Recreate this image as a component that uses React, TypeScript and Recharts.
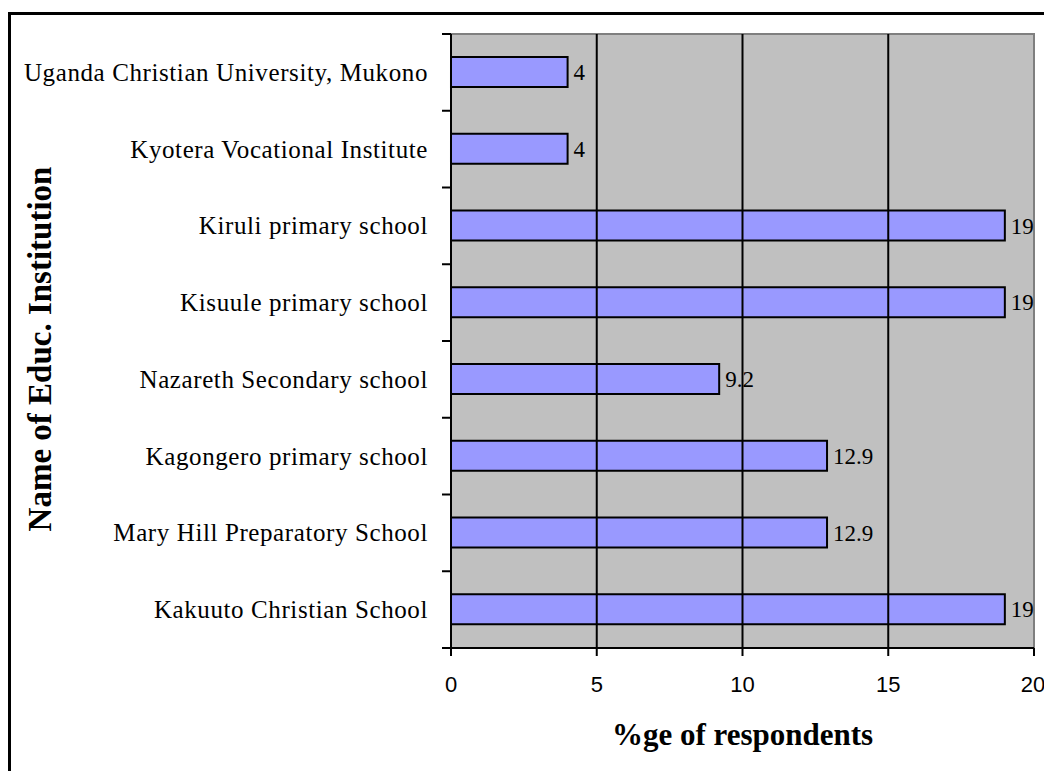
import React from 'react';
import { BarChart, Bar, XAxis, YAxis, ReferenceArea, ReferenceLine, LabelList } from 'recharts';

const institutions = [
  'Uganda Christian University, Mukono',
  'Kyotera Vocational Institute',
  'Kiruli primary school',
  'Kisuule primary school',
  'Nazareth Secondary school',
  'Kagongero primary school',
  'Mary Hill Preparatory School',
  'Kakuuto Christian School',
];

const percentages = [4, 4, 19, 19, 9.2, 12.9, 12.9, 19];

const xTicks = [0, 5, 10, 15, 20];

const data = institutions.map((name, i) => ({ name, value: percentages[i] }));

const serif = '"Liberation Serif", "Times New Roman", serif';
const sans = '"Liberation Sans", Arial, sans-serif';

// category tick: label in the band centre, tick mark on the band edge (Excel style)
const CategoryTick = (props: any) => {
  const { x, y, payload, index, visibleTicksCount } = props;
  const half = payload?.offset ?? 0;
  return (
    <g>
      <line x1={x + 14} x2={x + 23} y1={y - half} y2={y - half} stroke="#000" strokeWidth={2} />
      {index === visibleTicksCount - 1 && (
        <line x1={x + 14} x2={x + 23} y1={y + half} y2={y + half} stroke="#000" strokeWidth={2} />
      )}
      <text
        x={x}
        y={y}
        textAnchor="end"
        dominantBaseline="central"
        fontFamily={serif}
        fontSize={25}
        letterSpacing={0.6}
        fill="#000"
      >
        {payload.value}
      </text>
    </g>
  );
};

const YTitle = (props: any) => {
  const { viewBox } = props;
  const cy = viewBox.y + viewBox.height / 2 + 8;
  return (
    <text
      x={40}
      y={cy}
      transform={`rotate(-90, 40, ${cy})`}
      textAnchor="middle"
      dominantBaseline="central"
      fontFamily={serif}
      fontWeight="bold"
      fontSize={33}
      fill="#000"
    >
      Name of Educ. Institution
    </text>
  );
};

const App = () => {
  const gridLines = xTicks.filter((t) => t > xTicks[0] && t < xTicks[xTicks.length - 1]);
  return (
    <div style={{ position: 'fixed', left: 0, top: 0, width: 1044, height: 771, overflow: 'hidden', background: '#fff' }}>
      <div
        style={{
          position: 'absolute',
          left: 8,
          top: 12,
          width: 1100,
          height: 800,
          borderLeft: '3px solid #000',
          borderTop: '3px solid #000',
        }}
      />
      <div style={{ position: 'absolute', left: 0, top: 0 }}>
        <BarChart
          width={1044}
          height={771}
          data={data}
          layout="vertical"
          margin={{ top: 34, right: 10, bottom: 0, left: 0 }}
        >
          <ReferenceArea
            x1={xTicks[0]}
            x2={xTicks[xTicks.length - 1]}
            fill="#C0C0C0"
            fillOpacity={1}
            stroke="#7F7F7F"
            strokeWidth={2}
          />
          {gridLines.map((t) => (
            <ReferenceLine key={t} x={t} stroke="#000" strokeWidth={2} />
          ))}
          <XAxis
            type="number"
            domain={[xTicks[0], xTicks[xTicks.length - 1]]}
            ticks={xTicks}
            height={123}
            axisLine={{ stroke: '#000', strokeWidth: 2 }}
            tickLine={{ stroke: '#000', strokeWidth: 2 }}
            tickSize={8}
            tickMargin={20}
            tick={{ fill: '#000', fontFamily: sans, fontSize: 22 }}
            label={{
              value: '%ge of respondents',
              position: 'insideTop',
              offset: 75,
              fill: '#000',
              fontFamily: serif,
              fontWeight: 'bold',
              fontSize: 31,
            }}
          />
          <YAxis
            type="category"
            dataKey="name"
            width={451}
            axisLine={{ stroke: '#000', strokeWidth: 2 }}
            tickLine={false}
            tickSize={9}
            tickMargin={14}
            tick={<CategoryTick />}
            interval={0}
            label={<YTitle />}
          />
          <Bar dataKey="value" fill="#9999FF" stroke="#000" strokeWidth={2} barSize={30} isAnimationActive={false}>
            <LabelList
              dataKey="value"
              position="right"
              offset={6}
              fill="#000"
              fontFamily={serif}
              fontSize={23}
            />
          </Bar>
        </BarChart>
      </div>
    </div>
  );
};

export default App;
